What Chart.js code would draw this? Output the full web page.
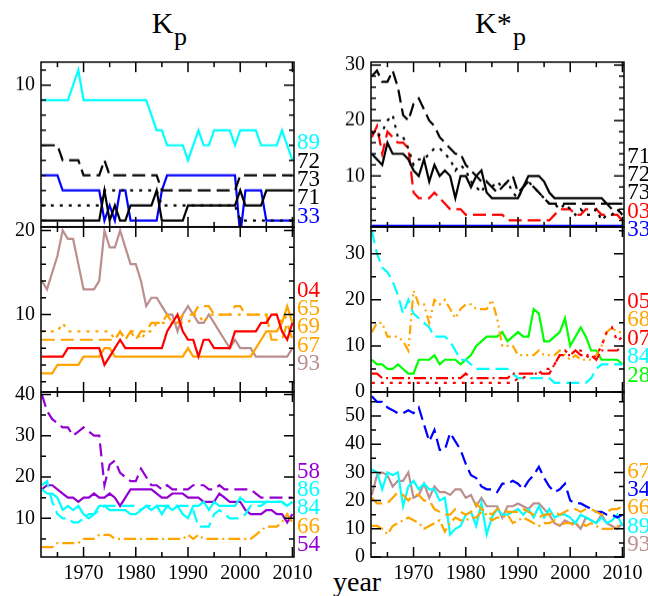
<!DOCTYPE html>
<html>
<head>
<meta charset="utf-8" />
<title>Kp / K*p</title>
<style>
html, body { margin: 0; padding: 0; background: #fff; overflow: hidden; }
body { width: 648px; height: 596px; position: relative; font-family: "Liberation Serif", "Times New Roman", serif; }
canvas { position: absolute; }
.lbl { position: absolute; font-family: "Liberation Serif", "Times New Roman", serif; font-size: 23px; line-height: 23px; white-space: nowrap; }
.txt { position: absolute; font-family: "Liberation Serif", "Times New Roman", serif; line-height: 1; white-space: nowrap; color: #000; }
</style>
</head>
<body>
<div class="txt" style="left:151.7px; top:8.2px; font-size:30px;">K</div>
<div class="txt" style="left:174px; top:24.2px; font-size:26px;">p</div>
<div class="txt" style="left:475px; top:8.2px; font-size:30px;">K*</div>
<div class="txt" style="left:513px; top:24.2px; font-size:26px;">p</div>
<div class="txt" style="left:333px; top:568.2px; font-size:28px;">year</div>
<script src="https://cdn.jsdelivr.net/npm/chart.js"></script>
<script>
const years = [1962,1963,1964,1965,1966,1967,1968,1969,1970,1971,
  1972,1973,1974,1975,1976,1977,1978,1979,1980,1981,
  1982,1983,1984,1985,1986,1987,1988,1989,1990,1991,
  1992,1993,1994,1995,1996,1997,1998,1999,2000,2001,
  2002,2003,2004,2005,2006,2007,2008,2009,2010];
const xMajors = [1970, 1980, 1990, 2000, 2010];
const xMinors = [1965, 1975, 1985, 1995, 2005];

// ---- Kp, top panel
const kpTop89 = [9,9,9,9,9,9,10,11,9,9, 9,9,9,9,9,9,9,9,9,9, 9,8,7,7,6,6,6,6,5,6, 7,6,6,7,7,7,7,6,7,7, 7,7,6,6,6,6,7,6,5];
const kpTop72 = [6,6,6,6,5,5,5,5,4,4, 4,4,5,4,4,4,4,4,4,4, 4,4,4,3,3,3,3,3,3,3, 3,3,3,3,3,3,3,3,4,4, 4,4,4,4,4,4,4,4,4];
const kpTop73 = [2,2,2,2,2,2,2,2,2,2, 2,2,3,3,3,3,3,3,3,3, 3,3,3,2,2,2,2,2,2,2, 2,2,2,2,2,2,2,2,1,1, 1,1,1,1,1,1,1,1,1];
const kpTop71 = [1,1,1,1,1,1,1,1,1,1, 1,1,3,1,2,1,1,2,2,2, 2,2,3,1,1,1,1,1,2,2, 2,2,2,2,2,2,2,2,3,2, 2,2,2,3,3,3,3,3,3];
const kpTop33 = [4,4,4,4,3,3,3,3,3,3, 3,3,1,2,1,3,3,1,1,1, 1,1,1,3,4,4,4,4,4,4, 4,4,4,4,4,4,4,4,0,3, 3,3,3,1,1,1,1,1,1];
// ---- Kp, middle panel
const kpMid04 = [5,5,5,5,5,6,6,6,6,6, 6,6,4,5,6,7,6,6,6,6, 6,6,6,6,8,9,10,8,7,7, 5,7,7,6,6,6,6,8,8,8, 8,8,9,9,10,10,8,7,9];
const kpMid65 = [3,3,3,4,4,4,4,4,5,5, 5,5,6,6,5,5,5,5,5,5, 5,5,5,5,5,5,5,5,6,5, 5,5,5,5,5,5,5,5,5,5, 5,6,7,8,8,8,9,11,9];
const kpMid69 = [8,8,8,8,9,8,8,8,8,8, 8,8,8,8,7,8,7,8,8,7, 8,8,9,9,9,9,9,9,9,10, 10,9,10,10,10,10,10,10,10,10, 10,10,10,10,10,10,9,10,10];
const kpMid67 = [7,7,7,7,7,7,7,7,7,7, 7,7,7,7,7,8,7,8,7,8, 8,9,9,9,10,9,9,10,10,10, 11,11,11,10,10,10,10,11,11,10, 10,10,10,10,7,7,7,9,7];
const kpMid93 = [14,13,15,17,20,19,19,16,13,13, 13,14,20,18,18,20,18,16,16,14, 11,12,12,11,10,10,8,10,11,10, 9,9,10,9,8,7,6,7,6,6, 6,5,5,5,5,5,5,5,6];
// ---- Kp, bottom panel
const kpBot58 = [40,36,34,33,32,32,30,31,32,31, 30,30,18,23,24,21,20,19,19,22, 20,18,18,17,18,17,17,17,17,18, 18,18,17,17,18,17,17,17,17,17, 17,16,15,15,15,15,15,15,15];
const kpBot86 = [17,16,16,15,12,13,12,13,11,10, 11,13,13,12,12,12,12,11,11,12, 13,12,13,11,13,12,13,11,10,13, 13,14,12,14,13,13,13,13,15,14, 14,14,14,14,14,14,14,13,14];
const kpBot84 = [18,19,14,11,10,10,9,9,10,11, 11,12,13,13,13,13,13,13,13,12, 13,13,13,13,13,13,13,13,13,12, 8,8,8,11,12,11,10,10,10,11, 13,13,13,14,14,14,14,13,14];
const kpBot66 = [3,3,3,4,4,4,4,4,5,5, 5,6,6,6,5,5,5,5,5,5, 5,5,5,5,5,5,5,5,6,5, 6,5,5,5,5,5,5,5,5,5, 5,6,7,8,8,8,9,11,9];
const kpBot54 = [17,18,18,17,16,15,15,14,15,15, 16,15,15,16,15,13,15,17,17,17, 17,17,16,15,15,16,16,16,15,15, 15,14,14,14,16,15,14,14,14,12, 11,11,11,12,12,11,11,9,11];
// ---- K*p, top panel
const ksTop71 = [14,13,12,16,14,14,14,13,11,10, 13,9,12,10,11,10,6,10,10,8, 10,11,7,6,6,6,6,6,6,8, 10,10,10,9,7,6,6,6,6,6, 6,6,6,6,6,5,5,5,5];
const ksTop72 = [28,29,27,27,29,26,21,20,23,24, 22,20,19,17,16,15,14,14,12,11, 10,9,9,8,7,8,9,10,7,8, 9,8,7,6,5,5,5,5,5,5, 5,5,5,5,5,5,4,4,3];
const ksTop73 = [18,17,18,20,21,17,17,15,12,13, 13,14,15,15,14,13,11,12,11,9, 8,7,9,8,9,8,9,7,6,8, 9,8,7,6,5,5,4,5,4,3, 4,3,3,4,2,3,3,4,3];
const ksTop03 = [17,19,14,18,17,16,16,15,7,6, 6,6,7,6,5,4,4,4,3,3, 3,3,3,3,3,3,2,2,2,2, 2,2,2,2,2,3,4,4,4,3, 3,4,4,4,3,3,3,3,2];
const ksTop33 = [1,1,1,1,1,1,1,1,1,1, 1,1,1,1,1,1,1,1,1,1, 1,1,1,1,1,1,1,1,1,1, 1,1,1,1,1,1,1,1,1,1, 1,1,1,1,1,1,1,1,1];
// ---- K*p, middle panel
const ksMid05 = [2,2,2,2,2,2,2,2,2,2, 2,2,2,2,2,2,2,2,2,2, 2,2,2,2,2,2,2,2,3,3, 4,4,4,5,5,6,8,9,8,9, 9,8,7,8,10,13,14,11,12];
const ksMid68 = [13,15,15,12,12,12,11,9,22,19, 19,15,20,19,20,18,16,18,19,19, 18,18,18,20,16,10,10,10,8,8, 8,8,9,8,8,8,9,8,7,8, 7,7,7,8,10,13,14,13,13];
const ksMid07 = [4,4,3,3,3,3,3,3,3,3, 3,3,3,3,3,3,3,3,4,3, 3,3,3,3,3,3,3,4,4,4, 4,4,4,4,4,6,8,8,8,9, 8,8,8,7,9,9,9,9,10];
const ksMid84 = [35,30,27,26,24,21,17,20,17,16, 15,14,12,12,12,11,9,7,7,6, 5,5,5,5,5,5,5,4,3,3, 3,3,3,3,3,2,2,2,2,2, 2,2,3,5,6,6,6,6,6];
const ksMid28 = [7,6,6,5,5,6,5,4,4,7, 7,7,8,6,7,7,7,6,7,8, 10,11,12,12,12,13,11,12,13,12, 12,18,17,11,11,12,13,16,10,12, 14,12,9,9,7,7,7,7,6];
// ---- K*p, bottom panel
const ksBot67 = [21,19,19,19,21,23,22,20,22,22, 20,20,17,16,15,15,17,16,15,16, 19,17,16,15,17,17,16,16,16,17, 16,15,14,15,15,16,15,16,17,17, 16,17,17,16,15,16,17,17,18];
const ksBot34 = [57,55,55,53,52,51,51,52,51,53, 47,41,45,38,38,44,41,38,33,29, 28,25,24,24,23,26,26,27,26,24, 27,29,32,28,25,23,24,26,20,19, 19,18,17,16,16,15,15,14,15];
const ksBot66 = [11,11,10,8,11,12,13,14,13,12, 10,11,12,13,9,12,14,13,13,14, 14,16,15,13,14,14,15,12,13,14, 13,12,11,12,12,13,11,12,12,11, 12,11,12,11,10,10,10,11,10];
const ksBot89 = [31,30,24,30,29,30,18,25,27,24, 26,24,24,20,21,8,10,11,15,16, 11,19,8,14,17,15,15,16,17,15, 17,14,18,14,17,14,15,15,14,12, 15,14,13,12,14,12,13,15,11];
const ksBot93 = [22,29,30,29,25,27,27,30,21,22, 26,21,25,23,23,22,24,24,21,22, 18,21,18,18,18,14,18,18,19,18, 17,19,19,17,15,12,11,13,12,12, 10,14,13,12,15,12,11,10,12];

const BLACK = '#000000', CYAN = '#00ffff', BLUE = '#0000ff', RED = '#ff0000',
      ORANGE = '#ffa500', BROWN = '#bc8f8f', VIOLET = '#9400d3', GREEN = '#00ff00';
const SOLID = [], DASH = [13, 6], DOT = [3, 6], DASHDOT = [12, 4, 2, 4], DASHDOTDOT = [9, 4, 2, 4, 2, 4];

const X_MIN = 1961.85, X_MAX = 2010.3;
const PLOT_W = 253.3;
const COL_X = [40.7, 371];
const ROW_Y = [62, 226.5, 392];
const ROW_H = [164.5, 165.5, 165];
const PAD_L = 40, PAD_T = 14, PAD_R = 30, PAD_B = 14, PAD_X = 40;

const panels = [
  { col: 0, row: 0, min: 0.57, max: 11.53, majors: [10], minor: 1, lab: 141.7,
    series: [['89', kpTop89, CYAN, SOLID], ['72', kpTop72, BLACK, DASH], ['73', kpTop73, BLACK, DOT],
             ['71', kpTop71, BLACK, SOLID], ['33', kpTop33, BLUE, SOLID]] },
  { col: 0, row: 1, min: 0.78, max: 20.42, majors: [10, 20], minor: 2, lab: 289,
    series: [['04', kpMid04, RED, SOLID], ['65', kpMid65, ORANGE, SOLID], ['69', kpMid69, ORANGE, DOT],
             ['67', kpMid67, ORANGE, DASH], ['93', kpMid93, BROWN, SOLID]] },
  { col: 0, row: 2, min: 0.63, max: 40.58, majors: [10, 20, 30, 40], minor: 5, lab: 470,
    series: [['58', kpBot58, VIOLET, DASH], ['86', kpBot86, CYAN, SOLID], ['84', kpBot84, CYAN, DASH],
             ['66', kpBot66, ORANGE, DASHDOT], ['54', kpBot54, VIOLET, SOLID]] },
  { col: 1, row: 0, min: 0.8, max: 30.55, majors: [10, 20, 30], minor: 2, lab: 155,
    series: [['71', ksTop71, BLACK, SOLID], ['72', ksTop72, BLACK, DASH], ['73', ksTop73, BLACK, DOT],
             ['03', ksTop03, RED, DASH], ['33', ksTop33, BLUE, SOLID]] },
  { col: 1, row: 1, min: 0, max: 35.8, majors: [0, 10, 20, 30], minor: 5, lab: 300.5,
    series: [['05', ksMid05, RED, DOT], ['68', ksMid68, ORANGE, DASHDOTDOT], ['07', ksMid07, RED, DASHDOT],
             ['84', ksMid84, CYAN, DASH], ['28', ksMid28, GREEN, SOLID]] },
  { col: 1, row: 2, min: 0, max: 58.5, majors: [0, 10, 20, 30, 40, 50], minor: 5, lab: 470,
    series: [['67', ksBot67, ORANGE, DASH], ['34', ksBot34, BLUE, DASH], ['66', ksBot66, ORANGE, DASHDOT],
             ['89', ksBot89, CYAN, SOLID], ['93', ksBot93, BROWN, SOLID]] }
];

// frame and inward ticks on all four sides, xmgrace style
const frameTicks = {
  id: 'frameTicks',
  afterDatasetsDraw(chart, args, o) {
    const ctx = chart.ctx, a = chart.chartArea;
    const xs = chart.scales.x, ys = chart.scales.y;
    ctx.save();
    ctx.strokeStyle = '#000';
    ctx.lineWidth = 1.5;
    ctx.strokeRect(a.left, a.top, a.right - a.left, a.bottom - a.top);
    ctx.beginPath();
    const xt = (v, len) => {
      const px = xs.getPixelForValue(v);
      ctx.moveTo(px, a.bottom); ctx.lineTo(px, a.bottom - len);
      ctx.moveTo(px, a.top); ctx.lineTo(px, a.top + len);
    };
    const yt = (v, len) => {
      const py = ys.getPixelForValue(v);
      ctx.moveTo(a.left, py); ctx.lineTo(a.left + len, py);
      ctx.moveTo(a.right, py); ctx.lineTo(a.right - len, py);
    };
    xMajors.forEach(v => xt(v, 10));
    xMinors.forEach(v => xt(v, 5));
    o.majors.forEach(v => yt(v, 10));
    for (let k = Math.ceil(o.min / o.minor); k * o.minor <= o.max; k++) {
      const v = k * o.minor;
      if (o.majors.indexOf(v) < 0) yt(v, 5);
    }
    ctx.stroke();
    ctx.restore();
  }
};

const tickFont = { family: '"Liberation Serif", "Times New Roman", serif', size: 20 };

panels.forEach(p => {
  const bottomRow = p.row === 2;
  const plotX = COL_X[p.col], plotY = ROW_Y[p.row], plotH = ROW_H[p.row];
  const padB = bottomRow ? PAD_X : PAD_B;
  const cv = document.createElement('canvas');
  const w = PAD_L + PLOT_W + PAD_R, h = PAD_T + plotH + padB;
  cv.width = w; cv.height = h;
  cv.style.left = (plotX - PAD_L) + 'px';
  cv.style.top = (plotY - PAD_T) + 'px';
  cv.style.width = w + 'px';
  cv.style.height = h + 'px';
  document.body.appendChild(cv);

  new Chart(cv, {
    type: 'line',
    data: {
      labels: years,
      datasets: p.series.map(s => ({
        label: s[0], data: s[1], borderColor: s[2], borderDash: s[3],
        borderWidth: 2.2, pointRadius: 0, tension: 0, fill: false, clip: 0
      }))
    },
    options: {
      responsive: false,
      animation: false,
      layout: { padding: { left: 0, top: PAD_T, right: PAD_R, bottom: bottomRow ? 0 : PAD_B } },
      plugins: {
        legend: { display: false },
        tooltip: { enabled: false },
        frameTicks: { majors: p.majors, minor: p.minor, min: p.min, max: p.max }
      },
      scales: {
        x: {
          type: 'linear', min: X_MIN, max: X_MAX, display: bottomRow,
          grid: { display: false, drawTicks: false }, border: { display: false },
          afterBuildTicks: s => { s.ticks = xMajors.map(v => ({ value: v })); },
          afterFit: s => { s.height = bottomRow ? PAD_X : 0; s.paddingLeft = 0; s.paddingRight = 0; },
          ticks: { font: tickFont, color: '#000', padding: 5, maxRotation: 0, autoSkip: false,
                   callback: v => String(v) }
        },
        y: {
          type: 'linear', min: p.min, max: p.max,
          grid: { display: false, drawTicks: false }, border: { display: false },
          afterBuildTicks: s => { s.ticks = p.majors.map(v => ({ value: v })); },
          afterFit: s => { s.width = PAD_L; s.paddingTop = 0; s.paddingBottom = 0; },
          ticks: { font: tickFont, color: '#000', padding: 6, autoSkip: false,
                   callback: v => String(v) }
        }
      }
    },
    plugins: [frameTicks]
  });

  // series names at the right of each panel
  p.series.forEach((s, i) => {
    const d = document.createElement('div');
    d.className = 'lbl';
    d.textContent = s[0];
    d.style.color = s[2];
    d.style.left = (plotX + PLOT_W + 3) + 'px';
    d.style.top = (p.lab + i * 18.4 - 11.5) + 'px';
    document.body.appendChild(d);
  });
});
</script>
</body>
</html>
